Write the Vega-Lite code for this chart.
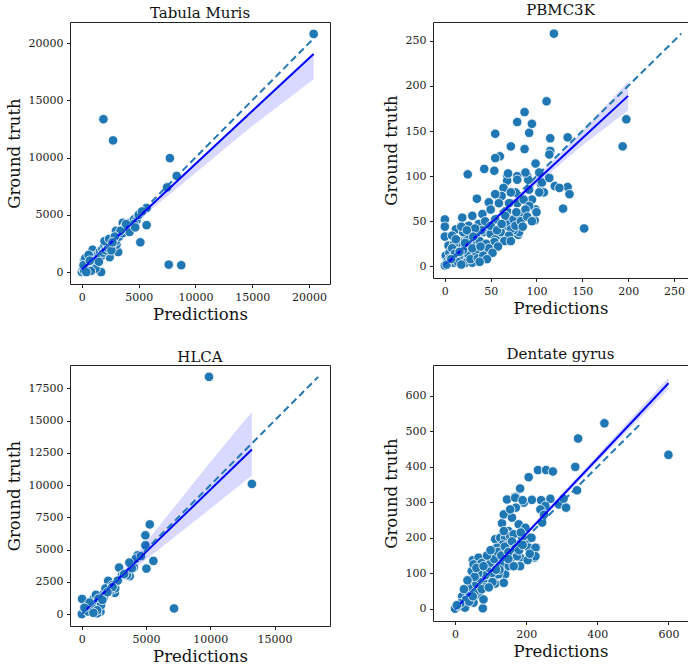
{
"$schema":"https://vega.github.io/schema/vega-lite/v6.json",
"padding":{"left":5,"top":3,"right":0,"bottom":0},
"background":"white",
"config":{
 "font":"DejaVu Serif",
 "view":{"stroke":"#222","strokeWidth":1},
 "axis":{"grid":false,"domain":false,"domainColor":"#222","tickColor":"#222","tickSize":3.5,"tickWidth":1,"labelFontSize":11,"labelColor":"#222","labelFont":"DejaVu Serif","titleFont":"DejaVu Serif","titleFontSize":16.5,"titleFontWeight":"normal","titleColor":"#111","labelPadding":3.5,"labelOverlap":false},
 "axisX":{"titlePadding":4},
 "axisY":{"titlePadding":6},
 "title":{"fontSize":15,"fontWeight":"normal","color":"#111","font":"DejaVu Serif","baseline":"alphabetic","anchor":"middle"}
},
"datasets":{
 "tm":[
 {"k":"p","x":0,"y":0},{"k":"p","x":20400,"y":20800},{"k":"p","x":1900,"y":13350},{"k":"p","x":2750,"y":11500},{"k":"p","x":7750,"y":9950},{"k":"p","x":8350,"y":8400},{"k":"p","x":7500,"y":7400},{"k":"p","x":5700,"y":5600},{"k":"p","x":5150,"y":5100},{"k":"p","x":5700,"y":4100},{"k":"p","x":5150,"y":2600},{"k":"p","x":7650,"y":650},{"k":"p","x":8750,"y":600},{"k":"p","x":1700,"y":0},{"k":"p","x":950,"y":1950},{"k":"p","x":3200,"y":1750},{"k":"p","x":2450,"y":1300},{"k":"p","x":3050,"y":2400},{"k":"p","x":3600,"y":4300},{"k":"p","x":4400,"y":3800},
 {"k":"p","x":100,"y":300},{"k":"p","x":200,"y":100},{"k":"p","x":300,"y":800},{"k":"p","x":400,"y":500},{"k":"p","x":500,"y":1000},{"k":"p","x":600,"y":300},{"k":"p","x":700,"y":700},{"k":"p","x":800,"y":1200},{"k":"p","x":900,"y":500},{"k":"p","x":1000,"y":900},{"k":"p","x":1100,"y":1400},{"k":"p","x":1200,"y":1100},{"k":"p","x":1300,"y":700},{"k":"p","x":1400,"y":1500},{"k":"p","x":1500,"y":1300},{"k":"p","x":1600,"y":1800},{"k":"p","x":1700,"y":1400},{"k":"p","x":1800,"y":2000},{"k":"p","x":1900,"y":1700},{"k":"p","x":2000,"y":2300},{"k":"p","x":2100,"y":1900},{"k":"p","x":2200,"y":2500},{"k":"p","x":2300,"y":2100},{"k":"p","x":2500,"y":2700},{"k":"p","x":2600,"y":2300},{"k":"p","x":2800,"y":2900},{"k":"p","x":3000,"y":2700},{"k":"p","x":3100,"y":3300},{"k":"p","x":3300,"y":3100},{"k":"p","x":3500,"y":3700},{"k":"p","x":3600,"y":3400},{"k":"p","x":3800,"y":4000},{"k":"p","x":4000,"y":3700},{"k":"p","x":4200,"y":4300},{"k":"p","x":4400,"y":4100},{"k":"p","x":4600,"y":4600},{"k":"p","x":4800,"y":4500},{"k":"p","x":5000,"y":5000},{"k":"p","x":5300,"y":5300},{"k":"p","x":200,"y":1000},{"k":"p","x":300,"y":1200},{"k":"p","x":150,"y":600},{"k":"p","x":600,"y":1500},{"k":"p","x":1000,"y":200},{"k":"p","x":1200,"y":300},{"k":"p","x":2000,"y":2700},{"k":"p","x":2400,"y":2900},{"k":"p","x":3000,"y":3600},{"k":"p","x":4200,"y":3500},{"k":"p","x":4600,"y":4200},{"k":"p","x":1500,"y":900},{"k":"p","x":2600,"y":1900},{"k":"p","x":700,"y":1000},{"k":"p","x":800,"y":100},{"k":"p","x":400,"y":0},{"k":"p","x":3400,"y":3600},{"k":"p","x":3900,"y":4200},{"k":"p","x":4700,"y":3900},{"k":"p","x":2900,"y":3100},{"k":"p","x":2700,"y":2600},
 {"k":"r","x":0,"y":200,"lo":0,"hi":450},{"k":"r","x":2500,"y":2510,"lo":2350,"hi":2680},{"k":"r","x":5000,"y":4820,"lo":4550,"hi":4950},{"k":"r","x":7500,"y":7130,"lo":6600,"hi":7250},{"k":"r","x":10000,"y":9440,"lo":8650,"hi":9560},{"k":"r","x":15000,"y":14060,"lo":12750,"hi":14200},{"k":"r","x":20400,"y":19050,"lo":16850,"hi":19200},
 {"k":"d","x":0,"y":0},{"k":"d","x":20700,"y":20700}
 ],
 "pb":[
 {"k":"p","x":119,"y":258},{"k":"p","x":111,"y":183},{"k":"p","x":87,"y":171},{"k":"p","x":79,"y":160},{"k":"p","x":95,"y":158},{"k":"p","x":92,"y":148},{"k":"p","x":55,"y":147},{"k":"p","x":115,"y":142},{"k":"p","x":134,"y":143},{"k":"p","x":72,"y":133},{"k":"p","x":87,"y":130},{"k":"p","x":115,"y":128},{"k":"p","x":114,"y":124},{"k":"p","x":60,"y":122},{"k":"p","x":55,"y":120},{"k":"p","x":99,"y":114},{"k":"p","x":43,"y":108},{"k":"p","x":54,"y":106},{"k":"p","x":25,"y":102},{"k":"p","x":68,"y":101},{"k":"p","x":79,"y":100},{"k":"p","x":90,"y":100},{"k":"p","x":68,"y":95},{"k":"p","x":79,"y":96},{"k":"p","x":91,"y":96},{"k":"p","x":105,"y":91},{"k":"p","x":120,"y":89},{"k":"p","x":134,"y":88},{"k":"p","x":136,"y":80},{"k":"p","x":108,"y":82},{"k":"p","x":35,"y":75},{"k":"p","x":48,"y":71},{"k":"p","x":129,"y":64},{"k":"p","x":98,"y":51},{"k":"p","x":152,"y":42},{"k":"p","x":0,"y":52},{"k":"p","x":0,"y":44},{"k":"p","x":0,"y":33},{"k":"p","x":198,"y":163},{"k":"p","x":194,"y":133},
 {"k":"p","x":64,"y":87},{"k":"p","x":77,"y":82},{"k":"p","x":92,"y":85},{"k":"p","x":95,"y":74},{"k":"p","x":103,"y":82},{"k":"p","x":88,"y":104},{"k":"p","x":103,"y":104},{"k":"p","x":69,"y":103},{"k":"p","x":106,"y":93},{"k":"p","x":99,"y":63},{"k":"p","x":114,"y":98},{"k":"p","x":125,"y":87},{"k":"p","x":62,"y":78},{"k":"p","x":55,"y":80},{"k":"p","x":72,"y":82},{"k":"p","x":68,"y":61},{"k":"p","x":79,"y":70},{"k":"p","x":86,"y":74},{"k":"p","x":92,"y":67},{"k":"p","x":80,"y":35},{"k":"p","x":81,"y":38},{"k":"p","x":66,"y":45},{"k":"p","x":70,"y":48},{"k":"p","x":75,"y":40},{"k":"p","x":60,"y":35},
 {"k":"p","x":12,"y":41},{"k":"p","x":19,"y":54},{"k":"p","x":30,"y":56},{"k":"p","x":41,"y":58},{"k":"p","x":50,"y":63},{"k":"p","x":59,"y":70},{"k":"p","x":70,"y":70},{"k":"p","x":26,"y":45},{"k":"p","x":37,"y":47},{"k":"p","x":44,"y":50},{"k":"p","x":55,"y":52},{"k":"p","x":66,"y":56},{"k":"p","x":75,"y":52},{"k":"p","x":81,"y":58},{"k":"p","x":88,"y":63},{"k":"p","x":8,"y":34},{"k":"p","x":15,"y":28},{"k":"p","x":23,"y":34},{"k":"p","x":34,"y":34},{"k":"p","x":43,"y":38},{"k":"p","x":50,"y":36},{"k":"p","x":55,"y":30},{"k":"p","x":61,"y":38},{"k":"p","x":72,"y":41},{"k":"p","x":77,"y":45},{"k":"p","x":83,"y":50},{"k":"p","x":4,"y":23},{"k":"p","x":12,"y":19},{"k":"p","x":19,"y":23},{"k":"p","x":28,"y":21},{"k":"p","x":35,"y":25},{"k":"p","x":43,"y":17},{"k":"p","x":54,"y":27},{"k":"p","x":70,"y":34},{"k":"p","x":1,"y":12},{"k":"p","x":8,"y":12},{"k":"p","x":17,"y":12},{"k":"p","x":26,"y":12},{"k":"p","x":34,"y":14},{"k":"p","x":3,"y":6},{"k":"p","x":10,"y":4},{"k":"p","x":23,"y":4},{"k":"p","x":30,"y":4},{"k":"p","x":0,"y":1},{"k":"p","x":5,"y":15},{"k":"p","x":10,"y":25},{"k":"p","x":15,"y":10},{"k":"p","x":20,"y":18},{"k":"p","x":25,"y":30},{"k":"p","x":30,"y":20},{"k":"p","x":38,"y":28},{"k":"p","x":45,"y":25},{"k":"p","x":50,"y":45},{"k":"p","x":57,"y":40},{"k":"p","x":62,"y":47},{"k":"p","x":40,"y":40},{"k":"p","x":33,"y":42},{"k":"p","x":20,"y":38},{"k":"p","x":8,"y":20},{"k":"p","x":14,"y":5},{"k":"p","x":18,"y":2},{"k":"p","x":28,"y":8},{"k":"p","x":36,"y":9},{"k":"p","x":42,"y":12},{"k":"p","x":48,"y":20},{"k":"p","x":6,"y":9},{"k":"p","x":2,"y":2},{"k":"p","x":11,"y":14},{"k":"p","x":16,"y":16},{"k":"p","x":22,"y":26},{"k":"p","x":31,"y":33},{"k":"p","x":39,"y":22},{"k":"p","x":65,"y":28},{"k":"p","x":58,"y":22},{"k":"p","x":52,"y":15},{"k":"p","x":46,"y":8},{"k":"p","x":38,"y":5},{"k":"p","x":72,"y":28},{"k":"p","x":85,"y":44},{"k":"p","x":90,"y":55},{"k":"p","x":95,"y":50},{"k":"p","x":100,"y":60},{"k":"p","x":78,"y":60},{"k":"p","x":18,"y":44},{"k":"p","x":24,"y":40},{"k":"p","x":12,"y":30},{"k":"p","x":7,"y":8},
 {"k":"r","x":0,"y":1,"lo":-2,"hi":4},{"k":"r","x":50,"y":48,"lo":46,"hi":50},{"k":"r","x":100,"y":95,"lo":91,"hi":99},{"k":"r","x":150,"y":142,"lo":134,"hi":150},{"k":"r","x":200,"y":189,"lo":173,"hi":205},
 {"k":"d","x":0,"y":0},{"k":"d","x":258,"y":258}
 ],
 "hl":[
 {"k":"p","x":9900,"y":18400},{"k":"p","x":13240,"y":10100},{"k":"p","x":7180,"y":440},{"k":"p","x":5290,"y":6960},{"k":"p","x":4950,"y":6110},{"k":"p","x":4950,"y":5340},{"k":"p","x":5570,"y":4130},{"k":"p","x":5030,"y":3530},{"k":"p","x":4330,"y":4560},{"k":"p","x":2900,"y":3610},{"k":"p","x":2050,"y":2580},{"k":"p","x":3730,"y":2940},{"k":"p","x":4040,"y":3610},{"k":"p","x":2570,"y":1650},{"k":"p","x":20,"y":1180},{"k":"p","x":0,"y":0},{"k":"p","x":3520,"y":3020},{"k":"p","x":3900,"y":3550},{"k":"p","x":540,"y":700},{"k":"p","x":930,"y":1210},{"k":"p","x":1190,"y":960},{"k":"p","x":1320,"y":440},{"k":"p","x":1580,"y":1470},{"k":"p","x":1840,"y":1990},{"k":"p","x":2360,"y":2240},{"k":"p","x":1450,"y":190},{"k":"p","x":1190,"y":60},{"k":"p","x":3136,"y":3016},{"k":"p","x":2600,"y":2000},{"k":"p","x":2200,"y":1800},{"k":"p","x":1700,"y":1300},{"k":"p","x":1000,"y":800},{"k":"p","x":800,"y":500},{"k":"p","x":300,"y":300},{"k":"p","x":500,"y":200},{"k":"p","x":1100,"y":1500},{"k":"p","x":1300,"y":1200},{"k":"p","x":600,"y":900},{"k":"p","x":2800,"y":2600},{"k":"p","x":3300,"y":3100},{"k":"p","x":4200,"y":4300},{"k":"p","x":1500,"y":700},{"k":"p","x":1200,"y":300},{"k":"p","x":900,"y":100},{"k":"p","x":2400,"y":2100},{"k":"p","x":3700,"y":4000},{"k":"p","x":4600,"y":4500},{"k":"p","x":200,"y":500},{"k":"p","x":1600,"y":1100},{"k":"p","x":2000,"y":1700},
 {"k":"r","x":0,"y":20,"lo":-150,"hi":200},{"k":"r","x":3000,"y":2906,"lo":2700,"hi":3110},{"k":"r","x":5000,"y":4830,"lo":4240,"hi":5565},{"k":"r","x":7500,"y":7235,"lo":6200,"hi":8685},{"k":"r","x":10000,"y":9640,"lo":8170,"hi":11800},{"k":"r","x":13240,"y":12760,"lo":10750,"hi":15700},
 {"k":"d","x":0,"y":0},{"k":"d","x":18400,"y":18400}
 ],
 "dg":[
 {"k":"p","x":420,"y":523},{"k":"p","x":346,"y":480},{"k":"p","x":600,"y":434},{"k":"p","x":338,"y":400},{"k":"p","x":343,"y":334},{"k":"p","x":233,"y":391},{"k":"p","x":256,"y":391},{"k":"p","x":275,"y":387},{"k":"p","x":207,"y":371},{"k":"p","x":183,"y":339},{"k":"p","x":146,"y":308},{"k":"p","x":170,"y":316},{"k":"p","x":193,"y":299},{"k":"p","x":216,"y":307},{"k":"p","x":313,"y":285},{"k":"p","x":292,"y":294},{"k":"p","x":268,"y":310},{"k":"p","x":245,"y":243},{"k":"p","x":183,"y":144},{"k":"p","x":202,"y":181},{"k":"p","x":224,"y":144},{"k":"p","x":228,"y":172},{"k":"p","x":78,"y":1},{"k":"p","x":0,"y":0},{"k":"p","x":132,"y":241},{"k":"p","x":113,"y":196},{"k":"p","x":47,"y":106},{"k":"p","x":50,"y":137},{"k":"p","x":113,"y":71},{"k":"p","x":141,"y":97},{"k":"p","x":183,"y":120},
 {"k":"p","x":169,"y":313},{"k":"p","x":190,"y":306},{"k":"p","x":171,"y":285},{"k":"p","x":242,"y":306},{"k":"p","x":254,"y":290},{"k":"p","x":305,"y":310},{"k":"p","x":312,"y":285},{"k":"p","x":150,"y":219},{"k":"p","x":127,"y":200},{"k":"p","x":141,"y":200},{"k":"p","x":155,"y":205},{"k":"p","x":134,"y":181},{"k":"p","x":151,"y":181},{"k":"p","x":118,"y":172},{"k":"p","x":141,"y":162},{"k":"p","x":160,"y":167},{"k":"p","x":108,"y":158},{"k":"p","x":122,"y":144},{"k":"p","x":141,"y":144},{"k":"p","x":160,"y":144},{"k":"p","x":94,"y":134},{"k":"p","x":113,"y":125},{"k":"p","x":132,"y":120},{"k":"p","x":151,"y":120},{"k":"p","x":174,"y":148},{"k":"p","x":207,"y":172},{"k":"p","x":226,"y":172},{"k":"p","x":226,"y":148},{"k":"p","x":204,"y":137},{"k":"p","x":66,"y":144},{"k":"p","x":52,"y":125},{"k":"p","x":75,"y":129},{"k":"p","x":90,"y":111},{"k":"p","x":71,"y":101},{"k":"p","x":94,"y":92},{"k":"p","x":108,"y":87},{"k":"p","x":122,"y":97},{"k":"p","x":137,"y":73},{"k":"p","x":57,"y":82},{"k":"p","x":80,"y":78},{"k":"p","x":38,"y":68},{"k":"p","x":61,"y":59},{"k":"p","x":28,"y":45},{"k":"p","x":42,"y":36},{"k":"p","x":66,"y":40},{"k":"p","x":80,"y":26},{"k":"p","x":52,"y":17},{"k":"p","x":19,"y":21},{"k":"p","x":10,"y":7},{"k":"p","x":28,"y":3},{"k":"p","x":104,"y":101},{"k":"p","x":137,"y":266},{"k":"p","x":160,"y":257},{"k":"p","x":155,"y":280},{"k":"p","x":137,"y":219},{"k":"p","x":179,"y":238},{"k":"p","x":188,"y":200},{"k":"p","x":174,"y":181},{"k":"p","x":165,"y":210},{"k":"p","x":198,"y":228},
 {"k":"p","x":20,"y":35},{"k":"p","x":30,"y":25},{"k":"p","x":35,"y":50},{"k":"p","x":45,"y":60},{"k":"p","x":55,"y":45},{"k":"p","x":60,"y":70},{"k":"p","x":70,"y":85},{"k":"p","x":85,"y":95},{"k":"p","x":95,"y":115},{"k":"p","x":100,"y":130},{"k":"p","x":110,"y":140},{"k":"p","x":120,"y":160},{"k":"p","x":125,"y":110},{"k":"p","x":130,"y":150},{"k":"p","x":140,"y":175},{"k":"p","x":150,"y":160},{"k":"p","x":160,"y":190},{"k":"p","x":170,"y":170},{"k":"p","x":85,"y":60},{"k":"p","x":75,"y":55},{"k":"p","x":65,"y":100},{"k":"p","x":55,"y":90},{"k":"p","x":90,"y":150},{"k":"p","x":100,"y":165},{"k":"p","x":115,"y":110},{"k":"p","x":105,"y":75},{"k":"p","x":95,"y":60},{"k":"p","x":15,"y":15},{"k":"p","x":5,"y":10},{"k":"p","x":40,"y":20},{"k":"p","x":50,"y":35},{"k":"p","x":25,"y":55},{"k":"p","x":35,"y":80},{"k":"p","x":60,"y":115},{"k":"p","x":80,"y":120},{"k":"p","x":150,"y":140},{"k":"p","x":165,"y":120},{"k":"p","x":180,"y":165},{"k":"p","x":190,"y":180},{"k":"p","x":210,"y":155},{"k":"p","x":215,"y":200},{"k":"p","x":185,"y":215},{"k":"p","x":240,"y":280},{"k":"p","x":250,"y":265},
 {"k":"r","x":0,"y":-2,"lo":-6,"hi":3},{"k":"r","x":200,"y":211,"lo":206,"hi":216},{"k":"r","x":400,"y":423,"lo":413,"hi":433},{"k":"r","x":600,"y":636,"lo":620,"hi":652},
 {"k":"d","x":0,"y":0},{"k":"d","x":523,"y":523}
 ]
},
"spacing":24,
"vconcat":[
 {"hconcat":[
  {"title":{"text":"Tabula Muris","offset":1},"width":260,"height":262,"data":{"name":"tm"},
   "layer":[
    {"transform":[{"filter":"datum.k=='p'"}],"mark":{"type":"circle","size":90,"opacity":1,"color":"#1f77b4","stroke":"white","strokeWidth":0.8},
     "encoding":{"x":{"field":"x","type":"quantitative","scale":{"domain":[-1040,21840],"nice":false,"zero":false},"axis":{"values":[0,5000,10000,15000,20000],"format":"d","title":"Predictions"}},
                 "y":{"field":"y","type":"quantitative","scale":{"domain":[-1040,21840],"nice":false,"zero":false},"axis":{"values":[0,5000,10000,15000,20000],"format":"d","title":"Ground truth"}}}},
    {"transform":[{"filter":"datum.k=='r'"}],"mark":{"type":"area","color":"#0000ff","opacity":0.15},
     "encoding":{"x":{"field":"x","type":"quantitative","scale":{"domain":[-1040,21840],"nice":false,"zero":false},"axis":{"values":[0,5000,10000,15000,20000],"format":"d","title":"Predictions"}},
                 "y":{"field":"lo","type":"quantitative","scale":{"domain":[-1040,21840],"nice":false,"zero":false},"axis":{"values":[0,5000,10000,15000,20000],"format":"d","title":"Ground truth"}},"y2":{"field":"hi"}}},
    {"transform":[{"filter":"datum.k=='r'"}],"mark":{"type":"line","color":"#0000ff","strokeWidth":2},
     "encoding":{"x":{"field":"x","type":"quantitative","scale":{"domain":[-1040,21840],"nice":false,"zero":false},"axis":{"values":[0,5000,10000,15000,20000],"format":"d","title":"Predictions"}},
                 "y":{"field":"y","type":"quantitative","scale":{"domain":[-1040,21840],"nice":false,"zero":false},"axis":{"values":[0,5000,10000,15000,20000],"format":"d","title":"Ground truth"}}}},
    {"transform":[{"filter":"datum.k=='d'"}],"mark":{"type":"line","color":"#1f77b4","strokeWidth":2,"strokeDash":[7,4]},
     "encoding":{"x":{"field":"x","type":"quantitative","scale":{"domain":[-1040,21840],"nice":false,"zero":false},"axis":{"values":[0,5000,10000,15000,20000],"format":"d","title":"Predictions"}},
                 "y":{"field":"y","type":"quantitative","scale":{"domain":[-1040,21840],"nice":false,"zero":false},"axis":{"values":[0,5000,10000,15000,20000],"format":"d","title":"Ground truth"}}}}
   ]},
  {"title":{"text":"PBMC3K","offset":4},"width":255,"height":256,"data":{"name":"pb"},"view":{"stroke":null},
   "resolve":{"axis":{"x":"independent"}},
   "layer":[
    {"transform":[{"filter":"datum.k=='p'"}],"mark":{"type":"circle","size":90,"opacity":1,"color":"#1f77b4","stroke":"white","strokeWidth":0.8},
     "encoding":{"x":{"field":"x","type":"quantitative","scale":{"domain":[-12.9,265.3],"nice":false,"zero":false},"axis":{"values":[0,50,100,150,200,250],"format":"d","title":"Predictions","domain":true}},
                 "y":{"field":"y","type":"quantitative","scale":{"domain":[-12.9,270.9],"nice":false,"zero":false},"axis":{"values":[0,50,100,150,200,250],"format":"d","title":"Ground truth","domain":true}}}},
    {"transform":[{"filter":"datum.k=='r'"}],"mark":{"type":"area","color":"#0000ff","opacity":0.15},
     "encoding":{"x":{"field":"x","type":"quantitative","scale":{"domain":[-12.9,265.3],"nice":false,"zero":false},"axis":null},
                 "y":{"field":"lo","type":"quantitative","scale":{"domain":[-12.9,270.9],"nice":false,"zero":false},"axis":{"values":[0,50,100,150,200,250],"format":"d","title":"Ground truth","domain":true}},"y2":{"field":"hi"}}},
    {"transform":[{"filter":"datum.k=='r'"}],"mark":{"type":"line","color":"#0000ff","strokeWidth":2},
     "encoding":{"x":{"field":"x","type":"quantitative","scale":{"domain":[-12.9,265.3],"nice":false,"zero":false},"axis":null},
                 "y":{"field":"y","type":"quantitative","scale":{"domain":[-12.9,270.9],"nice":false,"zero":false},"axis":{"values":[0,50,100,150,200,250],"format":"d","title":"Ground truth","domain":true}}}},
    {"transform":[{"filter":"datum.k=='d'"}],"mark":{"type":"line","color":"#1f77b4","strokeWidth":2,"strokeDash":[7,4]},
     "encoding":{"x":{"field":"x","type":"quantitative","scale":{"domain":[-12.9,265.3],"nice":false,"zero":false},"axis":{"orient":"top","labels":false,"ticks":false,"title":null,"domain":true}},
                 "y":{"field":"y","type":"quantitative","scale":{"domain":[-12.9,270.9],"nice":false,"zero":false},"axis":{"values":[0,50,100,150,200,250],"format":"d","title":"Ground truth","domain":true}}}}
   ]}
 ],"spacing":52},
 {"hconcat":[
  {"title":{"text":"HLCA","offset":0},"width":260,"height":261,"data":{"name":"hl"},
   "layer":[
    {"transform":[{"filter":"datum.k=='p'"}],"mark":{"type":"circle","size":90,"opacity":1,"color":"#1f77b4","stroke":"white","strokeWidth":0.8},
     "encoding":{"x":{"field":"x","type":"quantitative","scale":{"domain":[-920,19320],"nice":false,"zero":false},"axis":{"values":[0,5000,10000,15000],"format":"d","title":"Predictions"}},
                 "y":{"field":"y","type":"quantitative","scale":{"domain":[-920,19320],"nice":false,"zero":false},"axis":{"values":[0,2500,5000,7500,10000,12500,15000,17500],"format":"d","title":"Ground truth"}}}},
    {"transform":[{"filter":"datum.k=='r'"}],"mark":{"type":"area","color":"#0000ff","opacity":0.15},
     "encoding":{"x":{"field":"x","type":"quantitative","scale":{"domain":[-920,19320],"nice":false,"zero":false},"axis":{"values":[0,5000,10000,15000],"format":"d","title":"Predictions"}},
                 "y":{"field":"lo","type":"quantitative","scale":{"domain":[-920,19320],"nice":false,"zero":false},"axis":{"values":[0,2500,5000,7500,10000,12500,15000,17500],"format":"d","title":"Ground truth"}},"y2":{"field":"hi"}}},
    {"transform":[{"filter":"datum.k=='r'"}],"mark":{"type":"line","color":"#0000ff","strokeWidth":2},
     "encoding":{"x":{"field":"x","type":"quantitative","scale":{"domain":[-920,19320],"nice":false,"zero":false},"axis":{"values":[0,5000,10000,15000],"format":"d","title":"Predictions"}},
                 "y":{"field":"y","type":"quantitative","scale":{"domain":[-920,19320],"nice":false,"zero":false},"axis":{"values":[0,2500,5000,7500,10000,12500,15000,17500],"format":"d","title":"Ground truth"}}}},
    {"transform":[{"filter":"datum.k=='d'"}],"mark":{"type":"line","color":"#1f77b4","strokeWidth":2,"strokeDash":[7,4]},
     "encoding":{"x":{"field":"x","type":"quantitative","scale":{"domain":[-920,19320],"nice":false,"zero":false},"axis":{"values":[0,5000,10000,15000],"format":"d","title":"Predictions"}},
                 "y":{"field":"y","type":"quantitative","scale":{"domain":[-920,19320],"nice":false,"zero":false},"axis":{"values":[0,2500,5000,7500,10000,12500,15000,17500],"format":"d","title":"Ground truth"}}}}
   ]},
  {"title":{"text":"Dentate gyrus","offset":3},"width":255,"height":256,"data":{"name":"dg"},"view":{"stroke":null},
   "resolve":{"axis":{"x":"independent"}},
   "layer":[
    {"transform":[{"filter":"datum.k=='p'"}],"mark":{"type":"circle","size":90,"opacity":1,"color":"#1f77b4","stroke":"white","strokeWidth":0.8},
     "encoding":{"x":{"field":"x","type":"quantitative","scale":{"domain":[-62,655],"nice":false,"zero":false},"axis":{"values":[0,200,400,600],"format":"d","title":"Predictions","domain":true}},
                 "y":{"field":"y","type":"quantitative","scale":{"domain":[-34.7,687.4],"nice":false,"zero":false},"axis":{"values":[0,100,200,300,400,500,600],"format":"d","title":"Ground truth","domain":true}}}},
    {"transform":[{"filter":"datum.k=='r'"}],"mark":{"type":"area","color":"#0000ff","opacity":0.15},
     "encoding":{"x":{"field":"x","type":"quantitative","scale":{"domain":[-62,655],"nice":false,"zero":false},"axis":null},
                 "y":{"field":"lo","type":"quantitative","scale":{"domain":[-34.7,687.4],"nice":false,"zero":false},"axis":{"values":[0,100,200,300,400,500,600],"format":"d","title":"Ground truth","domain":true}},"y2":{"field":"hi"}}},
    {"transform":[{"filter":"datum.k=='r'"}],"mark":{"type":"line","color":"#0000ff","strokeWidth":2},
     "encoding":{"x":{"field":"x","type":"quantitative","scale":{"domain":[-62,655],"nice":false,"zero":false},"axis":null},
                 "y":{"field":"y","type":"quantitative","scale":{"domain":[-34.7,687.4],"nice":false,"zero":false},"axis":{"values":[0,100,200,300,400,500,600],"format":"d","title":"Ground truth","domain":true}}}},
    {"transform":[{"filter":"datum.k=='d'"}],"mark":{"type":"line","color":"#1f77b4","strokeWidth":2,"strokeDash":[7,4]},
     "encoding":{"x":{"field":"x","type":"quantitative","scale":{"domain":[-62,655],"nice":false,"zero":false},"axis":{"orient":"top","labels":false,"ticks":false,"title":null,"domain":true}},
                 "y":{"field":"y","type":"quantitative","scale":{"domain":[-34.7,687.4],"nice":false,"zero":false},"axis":{"values":[0,100,200,300,400,500,600],"format":"d","title":"Ground truth","domain":true}}}}
   ]}
 ],"spacing":52}
]
}
